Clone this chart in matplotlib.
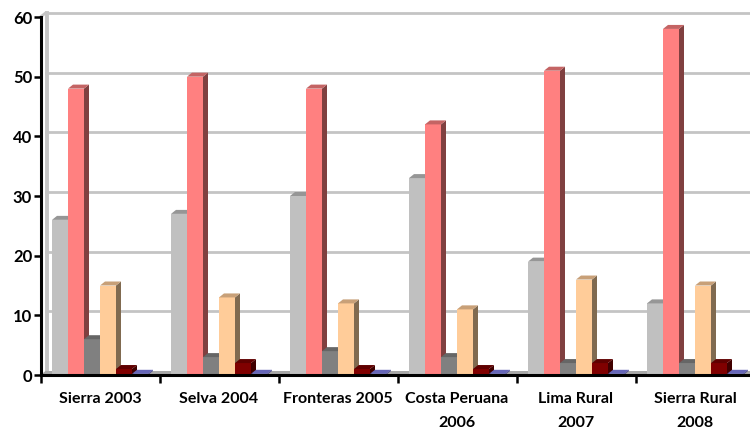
import numpy as np
import matplotlib
matplotlib.use('Agg')
import matplotlib.pyplot as plt
from matplotlib.patches import Polygon

categories = ['Sierra 2003', 'Selva 2004', 'Fronteras 2005', 'Costa Peruana\n2006', 'Lima Rural\n2007', 'Sierra Rural\n2008']
s1 = [26, 27, 30, 33, 19, 12]
s2 = [48, 50, 48, 42, 51, 58]
s3 = [6, 3, 4, 3, 2, 2]
s4 = [15, 13, 12, 11, 16, 15]
s5 = [1, 2, 1, 1, 2, 2]
s6 = [0.2, 0.2, 0.2, 0.2, 0.2, 0.2]
series = [s1, s2, s3, s4, s5, s6]

# front, top, side colours for each series
front = ['#C0C0C0', '#FF8080', '#808080', '#FFCC99', '#800000', '#7070C8']
top = ['#969696', '#C46464', '#666666', '#C8A078', '#600000', '#6666B8']
side = ['#8C8C8C', '#804040', '#555555', '#806A50', '#400000', '#505090']

W, H = 750, 429
x0, y0, y60 = 40.5, 375.0, 17.0
group_px = 119.0
px_x = 1 / group_px
px_y = 60 / (y0 - y60)
dx, dy = 5 * px_x, 4 * px_y
bar_w = 16 * px_x
start = 11.5 * px_x
xmax = (W - x0) / group_px

fig = plt.figure(figsize=(W / 100, H / 100), dpi=100)
ax = fig.add_axes([x0 / W, 1 - y0 / H, (W - x0) / W, (y0 - y60) / H])

# back wall, floor and gridlines
wall = '#C4C4C4'
for v in range(10, 70, 10):
    ax.plot([dx, 7], [v + dy, v + dy], color=wall, lw=2, clip_on=False, zorder=1)
ax.plot([dx + 1.5 * px_x, dx + 1.5 * px_x], [dy, 60 + dy], color=wall, lw=2.8, clip_on=False, zorder=1)
ax.plot([0, dx], [60, 60 + dy], color=wall, lw=2, clip_on=False, zorder=1)
ax.add_patch(Polygon([(0, 0), (dx, dy), (7, dy), (7, 0)], closed=True, fc='#A8A8A8', ec='none', zorder=1))

z = 2
for g in range(len(categories)):
    for i, vals in enumerate(series):
        v = vals[g]
        x = g + start + i * bar_w
        ax.bar(x, v, width=bar_w, align='edge', color=front[i], lw=0, zorder=z)
        ax.add_patch(Polygon([(x + bar_w, 0), (x + bar_w + dx, dy), (x + bar_w + dx, v + dy), (x + bar_w, v)],
                             closed=True, fc=side[i], ec='none', zorder=z))
        ax.add_patch(Polygon([(x, v), (x + dx, v + dy), (x + bar_w + dx, v + dy), (x + bar_w, v)],
                             closed=True, fc=top[i], ec='none', zorder=z))
        z += 1

for s in ['top', 'right']:
    ax.spines[s].set_visible(False)
for s in ['left', 'bottom']:
    ax.spines[s].set_linewidth(2.2)
    ax.spines[s].set_zorder(100)

ax.set_yticks(range(0, 70, 10))
ax.tick_params(axis='y', length=5, width=1.8, pad=1, labelsize=12)
for t in ax.get_yticklabels():
    t.set_fontfamily('Lato')
    t.set_fontweight('bold')

ax.set_xticks(range(0, 6))
ax.set_xticklabels([])
ax.tick_params(axis='x', length=6, width=1.8, direction='out')
ax.set_xlim(0, xmax)
ax.set_ylim(0, 60)
for g, name in enumerate(categories):
    ax.text(g + 0.5, -2.85, name, ha='center', va='top', family='Lato', fontweight='bold',
            fontsize=11.5, linespacing=1.95, clip_on=False)

fig.savefig('out.png', dpi=100)
